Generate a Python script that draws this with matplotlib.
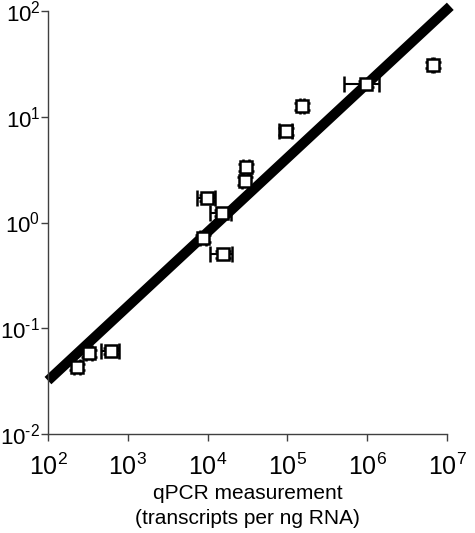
import matplotlib
matplotlib.use("Agg")
import matplotlib.pyplot as plt
from matplotlib.ticker import FuncFormatter
import numpy as np

plt.rcParams['font.family'] = ['Liberation Sans', 'DejaVu Sans']
plt.rcParams['mathtext.fontset'] = 'custom'
plt.rcParams['mathtext.rm'] = 'Liberation Sans'
plt.rcParams['mathtext.it'] = 'Liberation Sans'

# qPCR transcripts per ng RNA (x) vs. array signal (y)
qpcr = [231, 327, 617, 8750, 9850, 15100, 15600, 29400, 30200, 96000, 152000, 966000, 6.7e6]
signal = [0.043, 0.058, 0.061, 0.71, 1.71, 1.23, 0.50, 2.47, 3.35, 7.3, 12.6, 20.4, 30.8]
qpcr_err = [18, 25, 160, 700, 2400, 4400, 4800, 2600, 2400, 17000, 10000, 460000, 250000]
signal_err = [0.003, 0.004, 0.004, 0.05, 0.12, 0.09, 0.04, 0.2, 0.25, 0.6, 0.9, 1.4, 2.0]

# power-law fit drawn across the full x range
fit_x = [1e2, 1.1e7]
fit_a = 0.032
fit_b = 0.702

x_ticks = [1e2, 1e3, 1e4, 1e5, 1e6, 1e7]
y_ticks = [1e-2, 1e-1, 1e0, 1e1, 1e2]


def decade_label(v, pos):
    e = int(round(np.log10(v)))
    exp = str(e).replace('-', '\u2010')
    return r'$\mathdefault{10^{%s}}$' % exp


fig = plt.figure(figsize=(4.75, 5.33), dpi=100)
ax = fig.add_axes([0.101, 0.1857, 0.84, 0.7937])

fx = np.array(fit_x)
ax.plot(fx, fit_a * (fx / 1e2) ** fit_b, color='black', lw=7.2,
        solid_capstyle='butt', zorder=2, clip_on=False)

ax.errorbar(qpcr, signal, xerr=qpcr_err, yerr=signal_err, fmt='s',
            ms=8, mfc='white', mec='black', mew=1.8,
            ecolor='black', elinewidth=1.5, capsize=6, capthick=1.5,
            zorder=3, clip_on=False)

ax.set_xscale('log')
ax.set_yscale('log')
ax.set_xlim(1e2, 1e7)
ax.set_ylim(1e-2, 1e2)
ax.minorticks_off()
ax.set_xticks(x_ticks)
ax.set_yticks(y_ticks)
ax.xaxis.set_major_formatter(FuncFormatter(decade_label))
ax.yaxis.set_major_formatter(FuncFormatter(decade_label))

for s in ['top', 'right']:
    ax.spines[s].set_visible(False)
for s in ['left', 'bottom']:
    ax.spines[s].set_color('#404040')
    ax.spines[s].set_linewidth(1.0)

ax.tick_params(axis='both', which='major', direction='out', length=5,
               width=1, color='#404040')
ax.tick_params(axis='x', pad=9, labelsize=18)
ax.tick_params(axis='y', pad=0.5, labelsize=16)

ax.set_xlabel('qPCR measurement\n(transcripts per ng RNA)', fontsize=15,
              labelpad=3, linespacing=1.4)

fig.savefig('out.png', dpi=100)
